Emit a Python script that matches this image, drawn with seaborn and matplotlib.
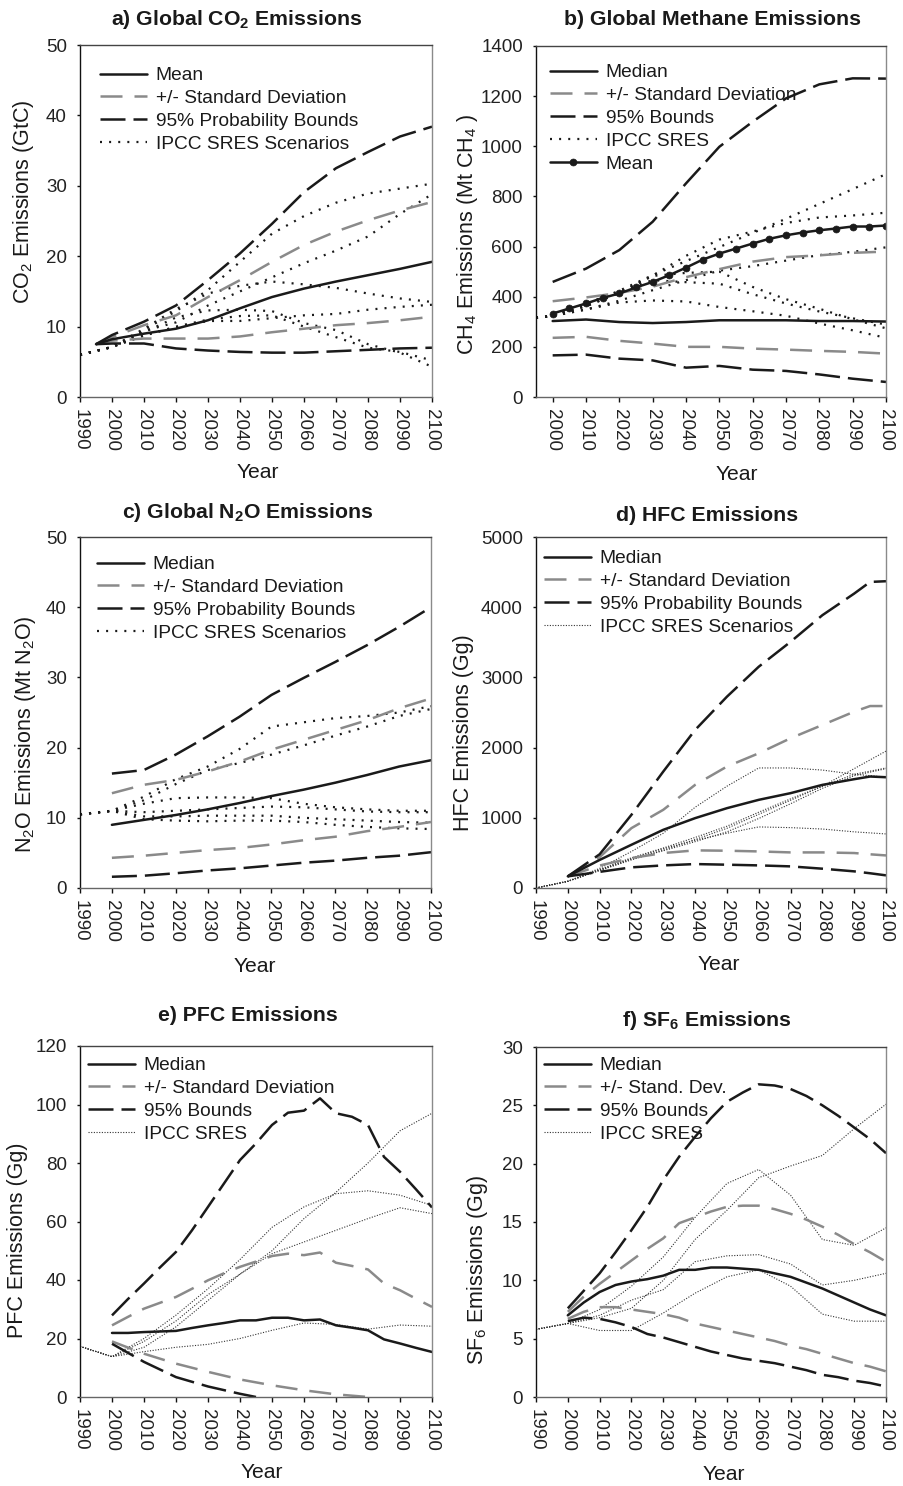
import matplotlib
matplotlib.use("Agg")
import matplotlib.pyplot as plt
import seaborn as sns
from matplotlib.lines import Line2D

sns.set_style("white")
plt.rcParams['font.family'] = ['Liberation Sans', 'DejaVu Sans']
plt.rcParams['mathtext.fontset'] = 'custom'
plt.rcParams['mathtext.rm'] = 'Liberation Sans'
plt.rcParams['mathtext.bf'] = 'Liberation Sans:bold'
plt.rcParams['mathtext.it'] = 'Liberation Sans:italic'
plt.rcParams['text.color'] = '#1a1a1a'

# ---------------- data ----------------
DEC = [2000, 2010, 2020, 2030, 2040, 2050, 2060, 2070, 2080, 2090, 2100]
SRES_YRS = [1990] + DEC
FIVE = list(range(2000, 2101, 5))

# a) CO2 (GtC)
a_years = [1995] + DEC
a_mean = [7.5, 8.2, 9.0, 9.7, 10.9, 12.6, 14.2, 15.4, 16.4, 17.3, 18.2, 19.2]
a_sd_hi = [7.5, 8.5, 10.2, 11.6, 14.2, 16.6, 19.2, 21.6, 23.5, 25.1, 26.5, 27.7]
a_sd_lo = [7.5, 8.0, 8.3, 8.3, 8.3, 8.6, 9.2, 9.7, 10.2, 10.5, 10.9, 11.4]
a_p95_hi = [7.5, 8.8, 10.7, 13.0, 16.6, 20.4, 24.6, 29.1, 32.5, 34.8, 37.0, 38.4]
a_p95_lo = [7.5, 7.6, 7.6, 6.9, 6.6, 6.4, 6.3, 6.3, 6.5, 6.7, 6.9, 7.0]
a_sres = {
    "A1FI": [6.0, 7.1, 9.5, 12.2, 15.2, 19.2, 23.2, 25.7, 27.6, 28.9, 29.6, 30.3],
    "A2":   [6.0, 7.1, 9.4, 10.6, 13.0, 15.0, 17.0, 19.0, 20.8, 22.8, 26.0, 28.8],
    "A1B":  [6.0, 7.1, 9.7, 12.5, 14.7, 15.8, 16.4, 16.0, 15.5, 14.7, 14.0, 13.5],
    "B2":   [6.0, 7.1, 8.8, 9.9, 10.8, 10.8, 11.2, 11.6, 11.8, 12.4, 12.8, 13.1],
    "A1T":  [6.0, 7.1, 9.2, 11.3, 12.3, 12.4, 12.2, 10.5, 9.5, 7.5, 6.3, 4.3],
    "B1":   [6.0, 7.1, 8.7, 10.0, 11.0, 11.5, 11.6, 10.0, 8.5, 7.0, 6.4, 5.2],
}

# b) CH4 (Mt CH4)
b_mean = [333, 353, 373, 395, 413, 437, 459, 486, 516, 548, 572, 592, 612, 631,
          645, 656, 665, 672, 680, 680, 684]
b_median = [303, 309, 299, 295, 299, 306, 306, 306, 303, 303, 301]
b_sd_hi = [382, 397, 415, 440, 478, 510, 540, 558, 565, 575, 580]
b_sd_lo = [236, 240, 224, 213, 200, 200, 193, 189, 184, 180, 173]
b_p95_hi = [459, 512, 586, 699, 852, 998, 1098, 1191, 1247, 1271, 1270]
b_p95_lo = [166, 169, 153, 146, 117, 124, 109, 104, 90, 73, 60]
b_sres_years = [1995] + DEC
b_sres = {
    "A2":   [317, 323, 370, 424, 486, 542, 598, 654, 711, 770, 829, 889],
    "A1FI": [317, 323, 362, 416, 484, 563, 628, 660, 694, 716, 724, 735],
    "B2":   [317, 323, 349, 384, 426, 466, 504, 522, 544, 566, 579, 597],
    "A1B":  [317, 323, 373, 421, 466, 458, 452, 410, 373, 341, 314, 289],
    "A1T":  [317, 323, 362, 415, 483, 495, 500, 439, 390, 352, 310, 274],
    "B1":   [317, 323, 349, 377, 385, 381, 359, 342, 324, 293, 266, 236],
}

# c) N2O (Mt N2O)
c_median = [9.0, 9.7, 10.4, 11.2, 12.1, 13.1, 14.0, 15.0, 16.1, 17.3, 18.2]
c_sd_hi = [13.5, 14.7, 15.4, 16.6, 18.0, 19.7, 21.1, 22.5, 23.9, 25.6, 27.0]
c_sd_lo = [4.3, 4.6, 5.0, 5.4, 5.7, 6.2, 6.8, 7.3, 8.1, 8.7, 9.4]
c_p95_hi = [16.3, 16.8, 19.0, 21.6, 24.4, 27.5, 29.9, 32.2, 34.6, 37.2, 40.0]
c_p95_lo = [1.6, 1.75, 2.1, 2.5, 2.8, 3.2, 3.6, 3.9, 4.3, 4.6, 5.1]
c_sres = {
    "A1FI": [10.5, 11.0, 13.0, 15.5, 17.3, 19.8, 23.0, 23.6, 24.2, 24.5, 25.0, 25.9],
    "A2":   [10.5, 11.0, 12.5, 14.8, 16.8, 17.8, 19.0, 20.3, 21.7, 23.0, 24.5, 25.5],
    "A1B":  [10.5, 11.0, 12.0, 12.8, 12.9, 12.9, 12.8, 12.0, 11.5, 11.2, 11.0, 11.0],
    "B2":   [10.5, 11.0, 10.8, 11.0, 11.2, 11.4, 11.6, 11.5, 11.2, 10.9, 10.8, 10.8],
    "A1T":  [10.5, 11.0, 10.2, 10.2, 10.3, 10.3, 10.3, 10.0, 9.8, 9.6, 9.4, 9.3],
    "B1":   [10.5, 11.0, 9.8, 9.6, 9.5, 9.6, 9.6, 9.4, 9.0, 8.7, 8.5, 8.4],
}

# d) HFC (Gg)
d_years = [2000, 2010, 2020, 2030, 2040, 2050, 2060, 2070, 2080, 2090, 2095, 2100]
d_median = [166, 400, 616, 829, 995, 1137, 1256, 1351, 1469, 1550, 1588, 1578]
d_sd_hi = [166, 440, 853, 1114, 1469, 1730, 1919, 2133, 2322, 2512, 2592, 2592]
d_sd_lo = [166, 320, 427, 498, 536, 531, 521, 507, 507, 498, 480, 464]
d_p95_hi = [166, 480, 1043, 1659, 2251, 2725, 3152, 3507, 3886, 4194, 4360, 4370]
d_p95_lo = [166, 230, 294, 322, 341, 332, 322, 308, 275, 237, 210, 180]
d_sres = {
    "S1": [0, 95, 280, 520, 780, 1150, 1450, 1710, 1710, 1680, 1620, 1580],
    "S2": [0, 95, 260, 420, 560, 680, 780, 870, 860, 840, 800, 770],
    "S3": [0, 95, 250, 400, 540, 690, 850, 1050, 1250, 1450, 1700, 1950],
    "S4": [0, 95, 250, 410, 530, 660, 800, 990, 1200, 1420, 1600, 1700],
    "S5": [0, 95, 265, 430, 570, 720, 880, 1080, 1270, 1450, 1620, 1710],
}

# e) PFC (Gg)
e_median = [21.9, 21.9, 22.2, 22.4, 22.6, 23.6, 24.5, 25.3, 26.2, 26.2, 27.1, 27.1,
            26.2, 26.5, 24.5, 23.7, 22.8, 19.7, 18.3, 16.8, 15.4]
e_sd_hi = [24.5, 27.4, 30.2, 32.2, 34.2, 37.0, 39.9, 42.3, 44.5, 46.3, 48.2, 49.0,
           48.5, 49.4, 45.9, 44.8, 43.6, 38.8, 36.5, 33.6, 30.8]
e_p95_hi = [27.9, 33.5, 38.8, 44.3, 49.6, 57.0, 65.0, 73.0, 81.0, 86.7, 93.0, 97.2,
            97.9, 102.1, 97.0, 95.8, 93.0, 82.1, 77.0, 71.0, 64.8]
e_sd_lo_years = [2000, 2010, 2020, 2030, 2040, 2050, 2060, 2070, 2080]
e_sd_lo = [19.0, 14.8, 11.4, 8.6, 6.0, 4.0, 2.3, 0.9, 0.0]
e_p95_lo_years = [2000, 2010, 2020, 2030, 2040, 2045]
e_p95_lo = [18.2, 12.0, 6.8, 3.6, 1.1, 0.0]
e_sres = {
    "S1": [17.3, 13.8, 17.0, 24.0, 33.0, 42.0, 50.0, 61.0, 70.0, 80.0, 91.0, 97.0],
    "S2": [17.3, 13.8, 20.0, 28.0, 37.0, 47.0, 58.0, 65.0, 69.5, 70.5, 69.0, 65.5],
    "S3": [17.3, 13.8, 19.0, 26.0, 35.0, 42.0, 49.0, 53.0, 57.0, 61.0, 64.7, 62.7],
    "S4": [17.3, 13.8, 15.5, 17.0, 18.0, 20.0, 22.8, 25.3, 24.8, 23.2, 24.6, 24.2],
}

# f) SF6 (Gg)
f_median = [7.0, 8.1, 9.0, 9.6, 9.9, 10.1, 10.4, 10.9, 10.9, 11.1, 11.1, 11.0,
            10.9, 10.6, 10.3, 9.8, 9.3, 8.7, 8.1, 7.5, 7.0]
f_sd_hi = [7.3, 8.6, 9.7, 10.7, 11.7, 12.7, 13.6, 14.9, 15.4, 15.9, 16.3, 16.4,
           16.4, 16.1, 15.7, 15.2, 14.6, 13.9, 13.1, 12.4, 11.6]
f_sd_lo = [6.7, 7.3, 7.7, 7.7, 7.5, 7.3, 7.1, 6.8, 6.3, 6.0, 5.7, 5.4,
           5.1, 4.8, 4.4, 4.1, 3.7, 3.3, 2.9, 2.6, 2.2]
f_p95_hi = [7.6, 9.1, 10.6, 12.4, 14.3, 16.3, 18.6, 20.6, 22.3, 23.9, 25.3, 26.1,
            26.8, 26.7, 26.4, 25.8, 25.0, 24.1, 23.1, 22.1, 20.9]
f_p95_lo = [6.5, 6.8, 6.7, 6.4, 6.0, 5.4, 5.1, 4.7, 4.3, 3.9, 3.6, 3.3,
            3.1, 2.9, 2.6, 2.3, 1.9, 1.7, 1.4, 1.2, 0.9]
f_sres = {
    "S1": [5.8, 6.3, 6.8, 7.6, 10.0, 13.5, 16.0, 18.8, 19.8, 20.7, 23.0, 25.1],
    "S2": [5.8, 6.3, 7.5, 9.5, 12.0, 15.4, 18.3, 19.5, 17.3, 13.5, 13.0, 14.5],
    "S3": [5.8, 6.3, 7.0, 8.3, 9.2, 11.6, 12.1, 12.2, 11.4, 9.6, 10.0, 10.6],
    "S4": [5.8, 6.3, 5.7, 5.7, 7.2, 8.9, 10.3, 10.9, 9.5, 7.1, 6.5, 6.5],
}

# ---------------- styles ----------------
BLACK = '#1a1a1a'
GRAY = '#8a8a8a'
ST = {
    'solid': dict(color=BLACK, lw=1.8, linestyle='-'),
    'sd': dict(color=GRAY, lw=1.8, linestyle=(0, (8.8, 4.8))),
    'p95': dict(color=BLACK, lw=1.8, linestyle=(0, (10.0, 3.2))),
    'dot': dict(color=BLACK, lw=1.6, linestyle=(0, (0.9, 3.2))),
    'fine': dict(color='#333333', lw=0.8, linestyle=(0, (1.0, 1.4))),
    'meanmk': dict(color=BLACK, lw=1.8, linestyle='-', marker='o', markersize=5.0,
                   markeredgecolor=BLACK, markerfacecolor=BLACK, markeredgewidth=0.5),
}

W, H = 904, 1486
fig = plt.figure(figsize=(W / 100, H / 100), dpi=100)


def make_ax(l, t, r, b):
    return fig.add_axes([l / W, 1 - b / H, (r - l) / W, (b - t) / H])


def draw(ax, x, y, kind):
    sns.lineplot(x=x, y=y, ax=ax, legend=False, errorbar=None, **ST[kind])


def handle(kind):
    return Line2D([], [], **ST[kind])


def finish(ax, box, xlim, xticks, ylim, yticks, title, tpos, ylabel, ypos, xpos,
           handles, labels, lpos):
    l, t, r, b = box
    w, h = r - l, b - t
    ax.set_xlim(*xlim)
    ax.set_ylim(*ylim)
    ax.set_xticks(xticks)
    ax.set_yticks(yticks)
    ax.tick_params(axis='x', bottom=True, direction='out', length=3.6, width=1,
                   color='#111111', pad=5, labelsize=13.5, labelrotation=-90,
                   labelcolor='#222222')
    ax.tick_params(axis='y', left=True, direction='out', length=2.4, width=1,
                   color='#111111', pad=7, labelsize=13.5, labelcolor='#222222')
    for s, c in (('left', '#111111'), ('bottom', '#666666'), ('top', '#444444'),
                 ('right', '#8a8a8a')):
        ax.spines[s].set_color(c)
        ax.spines[s].set_linewidth(1.0)
        ax.spines[s].set_visible(True)
    ax.text((tpos[0] - l) / w, 1 + (t - tpos[1]) / h, title, transform=ax.transAxes,
            ha='center', va='baseline', fontsize=15.3, fontweight='bold',
            color='#1a1a1a')
    ax.set_ylabel(ylabel, fontsize=15.5, color='#1a1a1a', va='center', ha='center')
    ax.yaxis.set_label_coords((ypos[0] - l) / w, 1 - (ypos[1] - t) / h)
    ax.set_xlabel('Year', fontsize=15.2, color='#1a1a1a', va='center', ha='center')
    ax.xaxis.set_label_coords((xpos[0] - l) / w, -(xpos[1] - b) / h)
    ax.legend(handles, labels, loc='upper left',
              bbox_to_anchor=(lpos[0] / w, 1 - lpos[1] / h), borderaxespad=0,
              borderpad=0, frameon=False, fontsize=13.8, handlelength=2.45,
              handletextpad=0.45, labelspacing=0.28, numpoints=1)


X_ALL = list(range(1990, 2101, 10))
LAB4 = ['Median', '+/- Standard Deviation', '95% Probability Bounds',
        'IPCC SRES Scenarios']

# ---- a ----
box = (80, 45, 432, 397)
ax = make_ax(*box)
for k in a_sres:
    draw(ax, SRES_YRS, a_sres[k], 'dot')
draw(ax, a_years, a_sd_hi, 'sd')
draw(ax, a_years, a_sd_lo, 'sd')
draw(ax, a_years, a_p95_hi, 'p95')
draw(ax, a_years, a_p95_lo, 'p95')
draw(ax, a_years, a_mean, 'solid')
finish(ax, box, (1990, 2100), X_ALL, (0, 50), range(0, 51, 10),
       r'a) Global CO$_\mathbf{2}$ Emissions', (237, 25),
       r'CO$_\mathrm{2}$ Emissions (GtC)', (24, 202), (258, 473),
       [handle('solid'), handle('sd'), handle('p95'), handle('dot')],
       ['Mean'] + LAB4[1:], (20, 22))

# ---- b ----
box = (536, 46, 886, 397)
ax = make_ax(*box)
for k in b_sres:
    draw(ax, b_sres_years, b_sres[k], 'dot')
draw(ax, DEC, b_sd_hi, 'sd')
draw(ax, DEC, b_sd_lo, 'sd')
draw(ax, DEC, b_p95_hi, 'p95')
draw(ax, DEC, b_p95_lo, 'p95')
draw(ax, DEC, b_median, 'solid')
draw(ax, FIVE, b_mean, 'meanmk')
finish(ax, box, (1995, 2100), DEC, (0, 1400), range(0, 1401, 200),
       'b) Global Methane Emissions', (712, 25),
       r'CH$_\mathrm{4}$ Emissions (Mt CH$_\mathrm{4}$ )', (468, 234), (737, 475),
       [handle('solid'), handle('sd'), handle('p95'), handle('dot'), handle('meanmk')],
       ['Median', '+/- Standard Deviation', '95% Bounds', 'IPCC SRES', 'Mean'],
       (14, 18))

# ---- c ----
box = (80, 537, 431, 888)
ax = make_ax(*box)
for k in c_sres:
    draw(ax, SRES_YRS, c_sres[k], 'dot')
draw(ax, DEC, c_sd_hi, 'sd')
draw(ax, DEC, c_sd_lo, 'sd')
draw(ax, DEC, c_p95_hi, 'p95')
draw(ax, DEC, c_p95_lo, 'p95')
draw(ax, DEC, c_median, 'solid')
finish(ax, box, (1990, 2100), X_ALL, (0, 50), range(0, 51, 10),
       r'c) Global N$_\mathbf{2}$O Emissions', (248, 518),
       r'N$_\mathrm{2}$O Emissions (Mt N$_\mathrm{2}$O)', (26, 734), (255, 967),
       [handle('solid'), handle('sd'), handle('p95'), handle('dot')], LAB4, (17, 19))

# ---- d ----
box = (536, 537, 886, 888)
ax = make_ax(*box)
for k in d_sres:
    draw(ax, SRES_YRS, d_sres[k], 'fine')
draw(ax, d_years, d_sd_hi, 'sd')
draw(ax, d_years, d_sd_lo, 'sd')
draw(ax, d_years, d_p95_hi, 'p95')
draw(ax, d_years, d_p95_lo, 'p95')
draw(ax, d_years, d_median, 'solid')
finish(ax, box, (1990, 2100), X_ALL, (0, 5000), range(0, 5001, 1000),
       'd) HFC Emissions', (707, 521),
       'HFC Emissions (Gg)', (463, 733), (719, 965),
       [handle('solid'), handle('sd'), handle('p95'), handle('fine')], LAB4, (8, 13))

# ---- e ----
box = (80, 1046, 432, 1397)
ax = make_ax(*box)
for k in e_sres:
    draw(ax, SRES_YRS, e_sres[k], 'fine')
draw(ax, FIVE, e_sd_hi, 'sd')
draw(ax, e_sd_lo_years, e_sd_lo, 'sd')
draw(ax, FIVE, e_p95_hi, 'p95')
draw(ax, e_p95_lo_years, e_p95_lo, 'p95')
draw(ax, FIVE, e_median, 'solid')
finish(ax, box, (1990, 2100), X_ALL, (0, 120), range(0, 121, 20),
       'e) PFC Emissions', (248, 1021),
       'PFC Emissions (Gg)', (18, 1240), (262, 1472),
       [handle('solid'), handle('sd'), handle('p95'), handle('fine')],
       ['Median', '+/- Standard Deviation', '95% Bounds', 'IPCC SRES'], (8, 11))

# ---- f ----
box = (536, 1047, 886, 1397)
ax = make_ax(*box)
for k in f_sres:
    draw(ax, SRES_YRS, f_sres[k], 'fine')
draw(ax, FIVE, f_sd_hi, 'sd')
draw(ax, FIVE, f_sd_lo, 'sd')
draw(ax, FIVE, f_p95_hi, 'p95')
draw(ax, FIVE, f_p95_lo, 'p95')
draw(ax, FIVE, f_median, 'solid')
finish(ax, box, (1990, 2100), X_ALL, (0, 30), range(0, 31, 5),
       r'f) SF$_\mathbf{6}$ Emissions', (707, 1026),
       r'SF$_\mathrm{6}$ Emissions (Gg)', (478, 1270), (724, 1475),
       [handle('solid'), handle('sd'), handle('p95'), handle('fine')],
       ['Median', '+/- Stand. Dev.', '95% Bounds', 'IPCC SRES'], (8, 10))

fig.savefig('out.png', dpi=100)
